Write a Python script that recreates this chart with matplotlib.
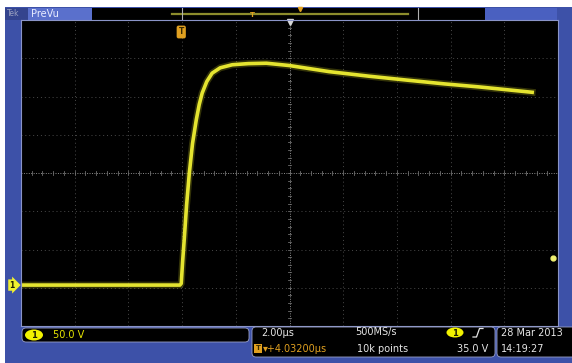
import matplotlib
matplotlib.use('Agg')
import matplotlib.pyplot as plt
import matplotlib.transforms as mtransforms
from matplotlib.patches import Rectangle, FancyBboxPatch, Ellipse

# ---------------- data ----------------
time_us = [-5.96, -3.0, -0.05, 0.0, 0.05, 0.11, 0.20, 0.30, 0.42, 0.56, 0.67,
           0.78, 0.95, 1.15, 1.45, 1.90, 2.50, 3.17, 4.02, 5.51, 7.00, 8.38,
           9.80, 11.10, 13.07]
volts = [0.0, 0.0, 0.0, 2.0, 30.0, 59.0, 105.0, 146.0, 185.0, 216.0, 236.0,
         251.0, 266.0, 277.0, 284.0, 288.0, 289.5, 290.0, 287.0, 279.0, 273.0,
         268.0, 263.0, 259.0, 252.0]

volts_per_div = 50.0
time_per_div = 2.0
h_position_us = 4.032
ground_div = -2.93
trigger_level_v = 35.0

ch1_scale_label = "50.0 V"
timebase_label = "2.00µs"
sample_rate_label = "500MS/s"
record_label = "10k points"
delay_label = "▾+4.03200µs"
trigger_label = "35.0 V"
date_label = "28 Mar 2013"
clock_label = "14:19:27"
title_label = "PreVu"

# ---------------- figure ----------------
W, H = 572, 363
fig = plt.figure(figsize=(W / 100, H / 100), dpi=100, facecolor='white')

BLUE = '#3d51a8'
BLUE2 = '#4a60c0'
TRACE = '#e4e430'
ORANGE = '#e0a020'
WHITE = '#e6e6e6'

bg = fig.add_axes([0, 0, 1, 1], zorder=0)
bg.set_xlim(0, W)
bg.set_ylim(H, 0)
bg.axis('off')
bg.add_patch(Rectangle((5, 7), W - 5, H - 7, fc=BLUE, ec='none'))
# title / record view bar
bg.add_patch(Rectangle((5, 8), 23, 12, fc='#34448e', ec='none'))
bg.add_patch(Rectangle((28, 8), 64, 12, fc='#5a70cc', ec='none'))
bg.add_patch(Rectangle((92, 8), 393, 12, fc='black', ec='none'))
bg.add_patch(Rectangle((485, 8), 72, 12, fc=BLUE2, ec='none'))
bg.text(7, 14, "Tek", color='#9aa0c0', fontsize=5.5, va='center', ha='left')
bg.text(31, 14, title_label, color='#e8ecff', fontsize=7, va='center', ha='left')
bg.plot([172, 408], [13.5, 13.5], color='#8c8c2c', lw=1.6)
bg.plot([182, 182], [8, 20], color='#b0b0b0', lw=0.8)
bg.plot([418, 418], [8, 20], color='#b0b0b0', lw=0.8)
bg.text(252, 15, "T", color=ORANGE, fontsize=5, fontweight='bold', ha='center', va='center')
bg.plot([300], [9], marker='v', color=ORANGE, ms=3, ls='none')
bg.plot([21, 558], [20.5, 20.5], color='#8a94c8', lw=0.8)

# ---------------- main graticule ----------------
ax = fig.add_axes([21 / W, 1 - 326 / H, 537 / W, 306 / H], zorder=1)
ax.set_facecolor('black')
xc = h_position_us
x0, x1 = xc - 5 * time_per_div, xc + 5 * time_per_div
yc = -ground_div * volts_per_div
y0, y1 = yc - 4 * volts_per_div, yc + 4 * volts_per_div
ax.set_xlim(x0, x1)
ax.set_ylim(y0, y1)
ax.set_xticks([])
ax.set_yticks([])
for s in ax.spines.values():
    s.set_color('#8a94c8')
    s.set_linewidth(0.8)

for i in range(1, 10):
    x = x0 + i * time_per_div
    if i == 5:
        ax.axvline(x, color='#8c8c8c', lw=0.7, ls=(0, (1, 1.5)))
    else:
        ax.axvline(x, color='#4a4a4a', lw=0.7, ls=(0, (1, 3)))
for j in range(1, 8):
    y = y0 + j * volts_per_div
    if j == 4:
        ax.axhline(y, color='#8c8c8c', lw=0.7, ls=(0, (1, 1.5)))
    else:
        ax.axhline(y, color='#4a4a4a', lw=0.7, ls=(0, (1, 3)))

# minor ticks on the centre cross
tick_v = volts_per_div * 1.8 / 38.25
tick_t = time_per_div * 1.8 / 53.7
for k in range(1, 50):
    x = x0 + k * time_per_div / 5
    ax.plot([x, x], [yc - tick_v, yc + tick_v], color='#6e6e6e', lw=0.6)
for k in range(1, 40):
    y = y0 + k * volts_per_div / 5
    ax.plot([xc - tick_t, xc + tick_t], [y, y], color='#6e6e6e', lw=0.6)

# trace
ax.plot(time_us, volts, color='#a8a818', lw=5.0, alpha=0.3, solid_joinstyle='round')
ax.plot(time_us, volts, color=TRACE, lw=2.6, solid_joinstyle='round')

# markers
tr_xdata = mtransforms.blended_transform_factory(ax.transData, ax.transAxes)
tr_ydata = mtransforms.blended_transform_factory(ax.transAxes, ax.transData)
ax.text(0.0, 1 - 12 / 306, "T", transform=tr_xdata, ha='center', va='center',
        fontsize=5.5, fontweight='bold', color='#3a2a00',
        bbox=dict(boxstyle='round,pad=0.25', fc=ORANGE, ec='none'), clip_on=False)
ax.plot([xc], [1 - 2 / 306], transform=tr_xdata, marker='v', color='#d8d8d8',
        ms=5, clip_on=False)
ax.text(-9 / 537, 0.0, "1", transform=tr_ydata, ha='center', va='center',
        fontsize=5.5, fontweight='bold', color='#202000',
        bbox=dict(boxstyle='rarrow,pad=0.15', fc='#f0f030', ec='none'), clip_on=False)
ax.plot([0.99], [trigger_level_v], transform=tr_ydata, marker='o', ms=3.5,
        color='#f0f070', clip_on=False)

# ---------------- bottom read-outs ----------------
ov = fig.add_axes([0, 0, 1, 1], zorder=3)
ov.set_xlim(0, W)
ov.set_ylim(H, 0)
ov.axis('off')
ov.patch.set_alpha(0)

def box(x, y, w, h):
    ov.add_patch(FancyBboxPatch((x, y), w, h, boxstyle='round,pad=0,rounding_size=4',
                                fc='black', ec='#9aa0c8', lw=0.6))

box(22, 328, 227, 14)
ov.add_patch(Ellipse((34, 335), 18, 11, fc='#f2f200', ec='none'))
ov.text(34, 335.5, "1", color='#202000', fontsize=6, fontweight='bold', ha='center', va='center')
ov.text(53, 335.5, ch1_scale_label, color='#e6e600', fontsize=7, ha='left', va='center')

box(252, 327, 243, 30)
ov.text(261, 332.5, timebase_label, color=WHITE, fontsize=7, ha='left', va='center')
ov.text(355, 332.5, sample_rate_label, color=WHITE, fontsize=7, ha='left', va='center')
ov.add_patch(Rectangle((254, 344), 8, 9, fc=ORANGE, ec='none'))
ov.text(258, 348.5, "T", color='#3a2a00', fontsize=5, fontweight='bold', ha='center', va='center')
ov.text(263, 348.5, delay_label, color=ORANGE, fontsize=7, ha='left', va='center')
ov.text(357, 348.5, record_label, color=WHITE, fontsize=7, ha='left', va='center')
ov.add_patch(Ellipse((455, 332.5), 17, 10, fc='#f2f200', ec='none'))
ov.text(455, 333, "1", color='#202000', fontsize=6, fontweight='bold', ha='center', va='center')
ov.plot([473, 476.5, 479.5, 483], [337, 337, 328.5, 328.5], color=WHITE, lw=0.9)
ov.text(488, 348.5, trigger_label, color=WHITE, fontsize=7, ha='right', va='center')

box(497, 327, 85, 30)
ov.text(501, 332.5, date_label, color=WHITE, fontsize=7, ha='left', va='center')
ov.text(501, 348.5, clock_label, color=WHITE, fontsize=7, ha='left', va='center')

fig.savefig('out.png', dpi=100, facecolor=fig.get_facecolor())
